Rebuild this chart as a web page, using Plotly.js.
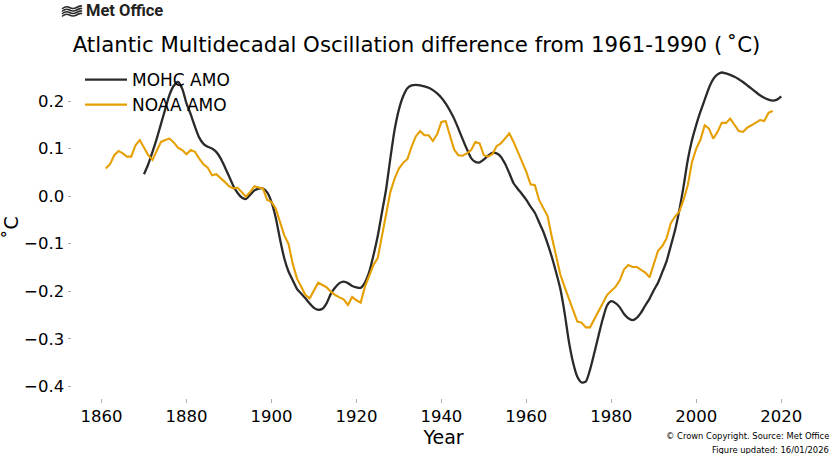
<!DOCTYPE html>
<html>
<head>
<meta charset="utf-8">
<script src="https://cdn.plot.ly/plotly-3.0.1.min.js"></script>
<style>html,body{margin:0;padding:0;background:#fff;}#chart{width:833px;height:454px;}</style>
</head>
<body>
<div id="chart"></div>
<script>
// ---- Data ----
const noaaYears = [1861,1862,1863,1864,1865,1866,1867,1868,1869,1870,
1871,1872,1873,1874,1875,1876,1877,1878,1879,1880,
1881,1882,1883,1884,1885,1886,1887,1888,1889,1890,
1891,1892,1893,1894,1895,1896,1897,1898,1899,1900,
1901,1902,1903,1904,1905,1906,1907,1908,1909,1910,
1911,1912,1913,1914,1915,1916,1917,1918,1919,1920,
1921,1922,1923,1924,1925,1926,1927,1928,1929,1930,
1931,1932,1933,1934,1935,1936,1937,1938,1939,1940,
1941,1942,1943,1944,1945,1946,1947,1948,1949,1950,
1951,1952,1953,1954,1955,1956,1957,1958,1959,1960,
1961,1962,1963,1964,1965,1966,1967,1968,1969,1970,
1971,1972,1973,1974,1975,1976,1977,1978,1979,1980,
1981,1982,1983,1984,1985,1986,1987,1988,1989,1990,
1991,1992,1993,1994,1995,1996,1997,1998,1999,2000,
2001,2002,2003,2004,2005,2006,2007,2008,2009,2010,
2011,2012,2013,2014,2015,2016,2017,2018];
const noaaAMO = [0.058,0.067,0.086,0.095,0.090,0.083,0.083,0.107,0.118,0.102,
0.086,0.076,0.097,0.114,0.118,0.121,0.113,0.102,0.097,0.088,
0.097,0.093,0.079,0.067,0.060,0.044,0.046,0.039,0.030,0.021,
0.016,0.018,0.009,-0.001,0.009,0.021,0.018,0.016,-0.008,-0.012,
-0.026,-0.054,-0.082,-0.100,-0.142,-0.173,-0.191,-0.208,-0.215,-0.198,
-0.182,-0.187,-0.192,-0.201,-0.208,-0.213,-0.217,-0.229,-0.212,-0.219,
-0.224,-0.191,-0.166,-0.145,-0.131,-0.086,-0.036,0.009,0.037,0.058,
0.070,0.078,0.104,0.126,0.137,0.128,0.128,0.116,0.130,0.156,
0.158,0.125,0.098,0.086,0.085,0.090,0.097,0.114,0.111,0.086,
0.083,0.088,0.105,0.111,0.121,0.132,0.114,0.093,0.072,0.051,
0.025,0.023,-0.008,-0.026,-0.042,-0.086,-0.128,-0.165,-0.191,-0.215,
-0.240,-0.264,-0.266,-0.276,-0.276,-0.259,-0.240,-0.224,-0.208,-0.199,
-0.191,-0.177,-0.154,-0.145,-0.149,-0.149,-0.156,-0.161,-0.171,-0.142,
-0.115,-0.105,-0.089,-0.057,-0.043,-0.033,-0.008,0.023,0.072,0.100,
0.119,0.149,0.142,0.121,0.135,0.154,0.154,0.163,0.149,0.137,
0.135,0.144,0.149,0.154,0.160,0.158,0.175,0.179];

const mohcYears = [1870,
1871,1872,1873,1874,1875,1876,1877,1878,1879,1880,
1881,1882,1883,1884,1885,1886,1887,1888,1889,1890,
1891,1892,1893,1894,1895,1896,1897,1898,1899,1900,
1901,1902,1903,1904,1905,1906,1907,1908,1909,1910,
1911,1912,1913,1914,1915,1916,1917,1918,1919,1920,
1921,1922,1923,1924,1925,1926,1927,1928,1929,1930,
1931,1932,1933,1934,1935,1936,1937,1938,1939,1940,
1941,1942,1943,1944,1945,1946,1947,1948,1949,1950,
1951,1952,1953,1954,1955,1956,1957,1958,1959,1960,
1961,1962,1963,1964,1965,1966,1967,1968,1969,1970,
1971,1972,1973,1974,1975,1976,1977,1978,1979,1980,
1981,1982,1983,1984,1985,1986,1987,1988,1989,1990,
1991,1992,1993,1994,1995,1996,1997,1998,1999,2000,
2001,2002,2003,2004,2005,2006,2007,2008,2009,2010,
2011,2012,2013,2014,2015,2016,2017,2018,2019,2020];
const mohcAMO = [0.046,
0.067,0.093,0.121,0.152,0.183,0.213,0.232,0.240,0.226,0.195,
0.172,0.146,0.123,0.110,0.104,0.100,0.093,0.080,0.062,0.042,
0.022,0.007,-0.003,-0.006,0.003,0.012,0.016,0.016,0.008,-0.012,
-0.045,-0.090,-0.130,-0.158,-0.177,-0.195,-0.205,-0.215,-0.226,-0.235,
-0.239,-0.237,-0.225,-0.205,-0.192,-0.183,-0.180,-0.183,-0.189,-0.192,
-0.193,-0.182,-0.160,-0.125,-0.085,-0.035,0.015,0.080,0.140,0.182,
0.210,0.227,0.233,0.234,0.233,0.231,0.228,0.223,0.216,0.207,
0.195,0.180,0.163,0.142,0.120,0.099,0.080,0.072,0.071,0.077,
0.085,0.091,0.090,0.083,0.068,0.048,0.027,0.015,0.004,-0.008,
-0.022,-0.035,-0.055,-0.075,-0.100,-0.128,-0.160,-0.195,-0.245,-0.305,
-0.350,-0.380,-0.392,-0.390,-0.365,-0.330,-0.293,-0.258,-0.230,-0.221,
-0.225,-0.234,-0.248,-0.257,-0.261,-0.256,-0.245,-0.230,-0.216,-0.198,
-0.182,-0.160,-0.137,-0.105,-0.072,-0.030,0.020,0.076,0.118,0.150,
0.178,0.203,0.228,0.246,0.256,0.260,0.258,0.255,0.251,0.246,
0.240,0.233,0.226,0.219,0.212,0.207,0.203,0.201,0.203,0.210];

const seriesNames = ["MOHC AMO", "NOAA AMO"];
const xTickVals = [1860,1880,1900,1920,1940,1960,1980,2000,2020];
const yTickVals = [-0.4,-0.3,-0.2,-0.1,0.0,0.1,0.2];

// ---- Layout helpers (pixel -> paper) ----
const W = 833, H = 454;
const M = {l: 72, r: 17.5, t: 57, b: 56};
const PW = W - M.l - M.r, PH = H - M.t - M.b;
const px = x => (x - M.l) / PW;
const py = y => (H - M.b - y) / PH;

const FONT = "DejaVu Sans, Verdana, sans-serif";

const logoSvg = "<svg xmlns='http://www.w3.org/2000/svg' width='44' height='26' viewBox='0 0 44 26'>" +
  "<g fill='none' stroke='#2a2a2a' stroke-width='3.2' stroke-linecap='round'>" +
  "<path d='M3,7 Q10,1 17,5 T31,5 T41,2'/>" +
  "<path d='M3,12 Q10,6 17,10 T31,10 T41,7'/>" +
  "<path d='M3,17 Q10,11 17,15 T31,15 T41,12'/>" +
  "<path d='M3,22 Q10,16 17,20 T31,20 T41,17'/>" +
  "</g></svg>";

const traces = [
  {x: mohcYears, y: mohcAMO, name: seriesNames[0], type: "scatter", mode: "lines",
   line: {color: "#2a2a2a", width: 2.3, shape: "spline", smoothing: 0.6}},
  {x: noaaYears, y: noaaAMO, name: seriesNames[1], type: "scatter", mode: "lines",
   line: {color: "#E69F00", width: 2.1}}
];

const layout = {
  width: W, height: H,
  margin: M,
  paper_bgcolor: "#ffffff", plot_bgcolor: "#ffffff",
  font: {family: FONT, color: "#000000"},
  title: {text: "Atlantic Multidecadal Oscillation difference from 1961-1990 (\u2009\u02DAC)",
          font: {family: FONT, size: 21.3, color: "#000000"},
          x: 0.5, xref: "container", xanchor: "center",
          y: 1 - 45 / H, yref: "container", yanchor: "middle"},
  showlegend: true,
  legend: {x: px(80), y: py(62), xanchor: "left", yanchor: "top", itemwidth: 42,
           font: {family: FONT, size: 17, color: "#000000"},
           bgcolor: "rgba(0,0,0,0)", borderwidth: 0, tracegroupgap: 0},
  xaxis: {range: [1853.05, 2027.95], tickvals: xTickVals, ticks: "outside", ticklen: 3.5,
          tickwidth: 0.8, tickcolor: "#999999", showline: false, showgrid: false, zeroline: false,
          tickfont: {family: FONT, size: 16.5, color: "#000000"},
          title: {text: "Year", font: {family: FONT, size: 19, color: "#000000"}, standoff: 0}},
  yaxis: {range: [-0.4246, 0.2926], tickvals: yTickVals, tickformat: ".1f", ticks: "outside", ticklen: 3.5,
          tickwidth: 0.8, tickcolor: "#999999", showline: false, showgrid: false, zeroline: false,
          tickfont: {family: FONT, size: 16.5, color: "#000000"},
          title: {text: "\u02DAC", font: {family: FONT, size: 19, color: "#000000"}, standoff: 6}},
  images: [{source: "data:image/svg+xml;utf8," + encodeURIComponent(logoSvg),
            xref: "paper", yref: "paper", x: px(61), y: py(5), sizex: 22 / PW, sizey: 13 / PH,
            xanchor: "left", yanchor: "top", sizing: "stretch", layer: "above"}],
  annotations: [
    {text: "<b>Met Office</b>", xref: "paper", yref: "paper", x: px(84), y: py(11),
     xanchor: "left", yanchor: "middle", showarrow: false,
     font: {family: "Roboto, Liberation Sans, sans-serif", size: 16.5, color: "#222222"}},
    {text: "\u00A9 Crown Copyright. Source: Met Office", xref: "paper", yref: "paper",
     x: px(832), y: py(436), xanchor: "right", yanchor: "middle", showarrow: false,
     font: {family: FONT, size: 8.4, color: "#000000"}},
    {text: "Figure updated: 16/01/2026", xref: "paper", yref: "paper",
     x: px(832), y: py(450), xanchor: "right", yanchor: "middle", showarrow: false,
     font: {family: FONT, size: 8.4, color: "#000000"}}
  ]
};

Plotly.newPlot("chart", traces, layout, {displayModeBar: false, staticPlot: true});
</script>
</body>
</html>
